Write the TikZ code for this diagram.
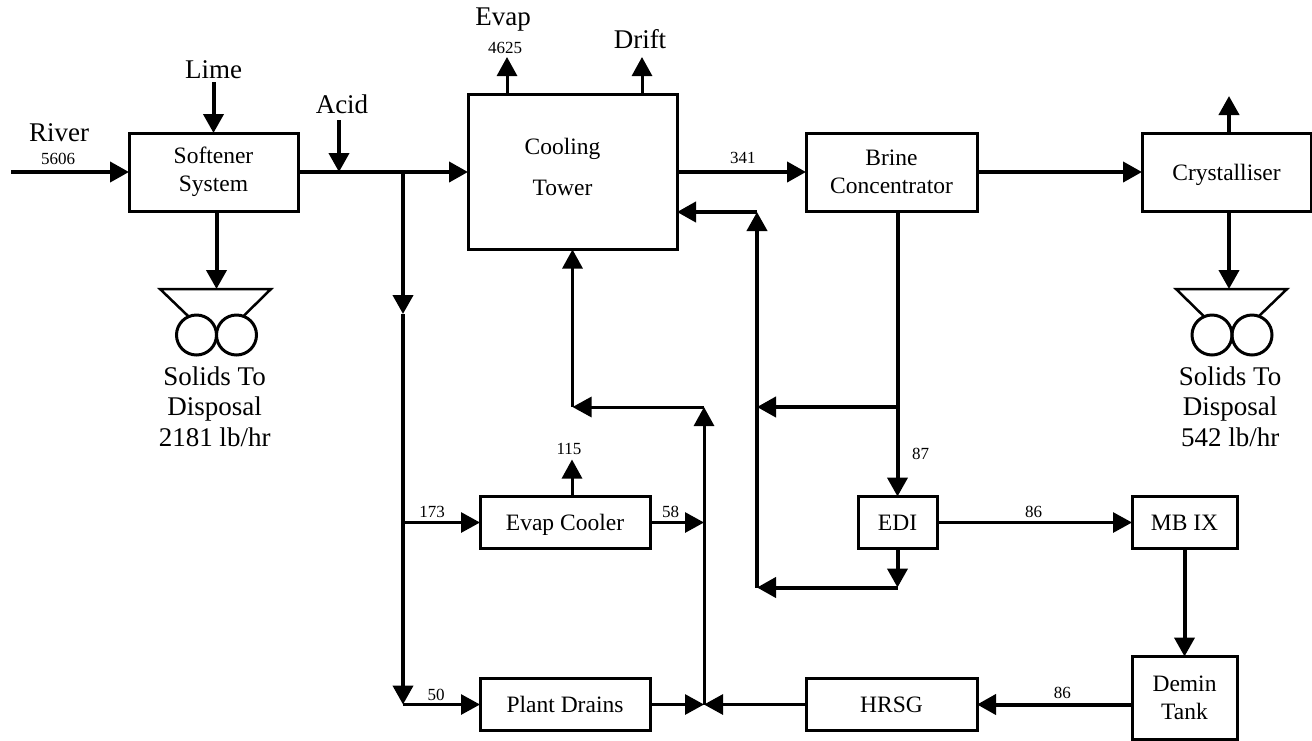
\documentclass[tikz,border=0pt]{standalone}
\usepackage{fontspec}
\setmainfont{Liberation Serif}
\usetikzlibrary{positioning,arrows.meta}

\begin{document}
\begin{tikzpicture}[x=1pt, y=-1pt, unitbox/.style={rectangle, draw, line width=3pt, outer sep=0pt, inner sep=0pt, align=center, font=\fontsize{23.5}{28}\selectfont}, flow/.style={line width=4pt, -{Triangle[length=19pt, width=20pt]}}, thinflow/.style={line width=3pt, -{Triangle[length=19pt, width=20pt]}}, bigtext/.style={inner sep=0pt, align=center, font=\fontsize{27}{30.5}\selectfont}, numtext/.style={inner sep=0pt, font=\fontsize{17}{18}\selectfont}, roller/.style={circle, draw, line width=3pt, minimum size=40pt, inner sep=0pt, outer sep=0pt}, hopper/.style={line width=2.5pt}]
      \useasboundingbox (0,0) rectangle (1312,740);

      \node [unitbox, minimum width=169pt, minimum height=78pt] (softener) at (213.5,172) {Softener\\ System};

      \node [unitbox, minimum width=209pt, minimum height=155pt, right = 170pt of softener] (tower) {};

      \node [inner sep=0pt, align=center, font=\fontsize{23.5}{28}\selectfont, xshift=-10pt, yshift=5pt] (towertext) at (tower) {Cooling\\[13pt] Tower};

      \node [unitbox, minimum width=171pt, minimum height=78pt, right = 129pt of tower] (brine) {Brine\\ Concentrator};

      \node [unitbox, minimum width=169pt, minimum height=78pt, text depth=0pt, right = 165pt of brine] (cryst) {Crystalliser};

      \node [unitbox, minimum width=170pt, minimum height=52pt, text depth=0pt, below = 247pt of tower, xshift=-7.5pt] (evap) {Evap Cooler};

      \node [unitbox, minimum width=170pt, minimum height=52pt, below = 130pt of evap] (drains) {Plant Drains};

      \node [unitbox, minimum width=171pt, minimum height=52pt, right = 156pt of drains] (hrsg) {HRSG};

      \node [unitbox, minimum width=79pt, minimum height=52pt, right = 208pt of evap] (edi) {EDI};

      \node [unitbox, minimum width=105pt, minimum height=52pt, right = 195pt of edi] (mbix) {MB IX};

      \node [unitbox, minimum width=105pt, minimum height=83pt, below = 108pt of mbix] (demin) {Demin\\ Tank};

      % softener side
      \coordinate [left = 118pt of softener] (riverin);

      \coordinate [above = 51pt of softener.north] (limein);

      \coordinate [right = 41pt of softener] (acidjoin);

      \coordinate [above = 52pt of acidjoin] (acidin);

      \coordinate [right = 105pt of softener] (split);

      \coordinate [below = 142pt of split] (splitmid);

      \coordinate (evapjoin) at (split |- evap.west);

      \coordinate (drainsturn) at (split |- drains.west);

      \coordinate [right = 54pt of drains] (merge);

      \coordinate (evapmerge) at (merge |- evap.east);

      \coordinate (mergetop) at (merge |- 0,407);

      \coordinate (returnend) at (tower.south |- mergetop);

      \coordinate (brinedown) at (brine.south -| edi.north);

      \coordinate (brinejoin) at (edi.north |- mergetop);

      \coordinate (returnmid) at (757,407);

      \coordinate (returntop) at (returnmid |- 0,212);

      \coordinate (towerback) at (tower.east |- returntop);

      \coordinate [below = 39pt of edi] (edidrop);

      \coordinate (returnlow) at (returnmid |- edidrop);

      \coordinate [above = 37pt of evap.north, xshift=7pt] (evapvent);

      \coordinate (evapstem) at (evapvent |- evap.north);

      \coordinate (evapout) at (507,95);

      \coordinate [above = 38pt of evapout] (evaptip);

      \coordinate (driftout) at (642,95);

      \coordinate [above = 38pt of driftout] (drifttip);

      \coordinate (crystup) at (1229,133);

      \coordinate [above = 37pt of crystup] (crysttip);

      % solids from softener
      \node [roller] (rollerA) at (196.5,335) {};

      \node [roller, right = 0pt of rollerA] (rollerB) {};

      \coordinate (hopperA) at (216.5,289);

      \node [bigtext, below = 17pt of rollerA.south east, xshift=4pt] (solidsA) {Solids To\\ Disposal\\ 2181 lb/hr};

      \draw[hopper] (rollerA.113) -- (160,289) -- (271,289) -- (rollerB.70);

      % solids from crystalliser
      \node [roller] (rollerC) at (1212,335) {};

      \node [roller, right = 0pt of rollerC] (rollerD) {};

      \coordinate (hopperC) at (1229,289);

      \node [bigtext, below = 17pt of rollerC.south east, xshift=4pt] (solidsC) {Solids To\\ Disposal\\ 542 lb/hr};

      \draw[hopper] (rollerC.113) -- (1176,289) -- (1287,289) -- (rollerD.70);

      % names and flows
      \node [bigtext, above = 9pt of riverin, xshift=48pt, yshift=21pt] (river) {River};

      \node [numtext, above = 7pt of riverin, xshift=47pt] (riverflow) {5606};

      \node [bigtext, above = 3pt of limein] (lime) {Lime};

      \node [bigtext, above = 6pt of acidin, xshift=3pt] (acid) {Acid};

      \node [bigtext, above = 26pt of evaptip, xshift=-4pt] (evaplabel) {Evap};

      \node [numtext, above = 3pt of evaptip, xshift=-2pt] (evapflow) {4625};

      \node [bigtext, above = 8pt of drifttip, xshift=-2pt] (drift) {Drift};

      \node [numtext, above = 5pt of evapvent, xshift=-3pt] (ventflow) {115};

      \node [numtext, above = 5pt of evapjoin, xshift=29pt] (evapfeed) {173};

      \node [numtext, above = 4pt of drainsturn, xshift=33pt] (drainsfeed) {50};

      \node [numtext, right = 12pt of evap, yshift=11pt] (evapdrain) {58};

      \node [numtext, right = 53pt of tower, yshift=14pt] (towerflow) {341};

      \node [numtext, above = 37pt of edi, xshift=23pt] (ediflow) {87};

      \node [numtext, right = 88pt of edi, yshift=11pt] (mbflow) {86};

      \node [numtext, left = 61pt of demin.west |- hrsg.east, yshift=12pt] (hrsgflow) {86};

      \path[flow] (riverin) edge (softener);

      \path[flow] (limein) edge (softener.north);

      \path[flow] (acidin) edge (acidjoin);

      \path[flow] (softener.east) edge (tower);

      \path[flow] (softener.south -| hopperA) edge (hopperA);

      \path[flow] (split) edge (splitmid);

      \path[flow] (splitmid) edge (drainsturn);

      \path[thinflow] (evapjoin) edge (evap);

      \path[thinflow] (drainsturn) edge (drains);

      \path[thinflow] (evap) edge (evapmerge);

      \path[thinflow] (drains) edge (merge);

      \path[thinflow] (hrsg) edge (merge);

      \path[thinflow] (merge) edge (mergetop);

      \path[thinflow] (mergetop) edge (returnend);

      \path[thinflow] (returnend) edge (tower.south);

      \path[thinflow] (evapstem) edge (evapvent);

      \path[thinflow] (evapout) edge (evaptip);

      \path[thinflow] (driftout) edge (drifttip);

      \path[flow] (tower) edge (brine);

      \path[flow] (brine) edge (cryst);

      \path[flow] (crystup) edge (crysttip);

      \path[flow] (cryst.south -| hopperC) edge (hopperC);

      \path[flow] (brinedown) edge (edi.north);

      \path[flow] (brinejoin) edge (returnmid);

      \path[flow] (returnlow) edge (returntop);

      \path[flow] (returntop) edge (towerback);

      \path[flow] (edi.south) edge (edidrop);

      \path[flow] (edidrop) edge (returnlow);

      \path[thinflow] (edi) edge (mbix);

      \path[flow] (mbix) edge (demin);

      \path[flow] (demin.west |- hrsg.east) edge (hrsg);
    \end{tikzpicture}
\end{document}
